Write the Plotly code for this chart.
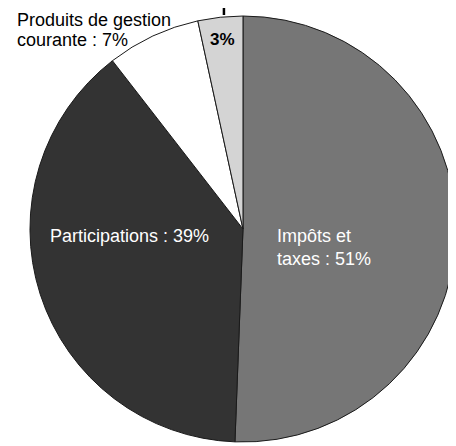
import plotly.graph_objects as go

# Budget breakdown (share of revenue, %); shares
categories = ["Impôts et taxes", "Participations", "Produits de gestion courante", "Autres"]
shares = [50.6, 38.9, 7.1, 3.4]
label_lines = [
    "Impôts et<br>taxes : 51%",
    "Participations : 39%",
    "Produits de gestion",
    "courante : 7%",
    "<b>3%</b>",
]

SLICE_COLORS = ["#767676", "#333333", "#ffffff", "#d4d4d4"]
LABEL_COLORS = ["white", "white", "black", "black", "black"]
LABEL_SIZES = [18, 18, 18, 18, 17]
# label anchors in paper coords (x, y, xanchor)
LABEL_POS = [
    (0.596, 0.454, "left"),
    (0.089, 0.479, "left"),
    (0.016, 0.973, "left"),
    (0.016, 0.927, "left"),
    (0.478, 0.927, "center"),
]

# the page body adds an 8px margin, so the figure is 8px smaller than the window
fig = go.Figure()
fig.add_trace(go.Pie(
    labels=categories,
    values=shares,
    sort=False,
    direction="clockwise",
    rotation=0,
    textinfo="none",
    hoverinfo="label+percent",
    marker=dict(colors=SLICE_COLORS, line=dict(color="#1a1a1a", width=1)),
    domain=dict(x=[0.049, 1.0], y=[0.0091, 0.9817]),
    showlegend=False,
))

for txt, col, size, (x, y, xa) in zip(label_lines, LABEL_COLORS, LABEL_SIZES, LABEL_POS):
    fig.add_annotation(
        x=x, y=y, xref="paper", yref="paper",
        text=txt, showarrow=False, xanchor=xa, yanchor="middle",
        align="left", font=dict(color=col, size=size, family="Liberation Sans, Arial"),
    )

# leader line of the (cropped) label above the 3% slice
fig.add_shape(type="line", xref="paper", yref="paper",
              x0=0.482, x1=0.482, y0=0.984, y1=1.0,
              line=dict(color="black", width=2.5))

fig.update_layout(
    width=448, height=438,
    margin=dict(l=0, r=0, t=0, b=0),
    paper_bgcolor="white",
    plot_bgcolor="white",
)

fig.write_html("out.html")
